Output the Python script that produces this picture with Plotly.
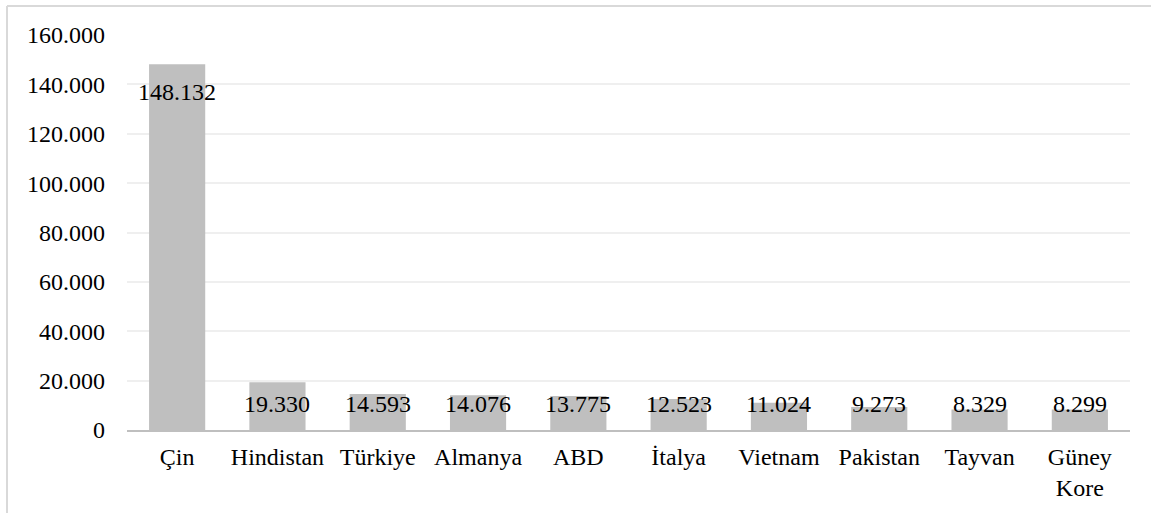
import plotly.graph_objects as go

# Country names and values (thousand separators drawn with ".")
countries = ["Çin", "Hindistan", "Türkiye", "Almanya", "ABD",
             "İtalya", "Vietnam", "Pakistan", "Tayvan", "Güney<br>Kore"]
values = [148132, 19330, 14593, 14076, 13775, 12523, 11024, 9273, 8329, 8299]

y_ticks = [0, 20000, 40000, 60000, 80000, 100000, 120000, 140000, 160000]

FONT = "Times New Roman"
FONT_SIZE = 24
BAR_COLOR = "#bfbfbf"


def fmt(v):
    return f"{v:,}".replace(",", ".")


fig = go.Figure()
fig.add_trace(go.Bar(
    x=countries,
    y=values,
    marker=dict(color=BAR_COLOR, line=dict(width=0)),
    hoverinfo="skip",
))

# Value labels near the top of each bar
annotations = []
for c, v in zip(countries, values):
    annotations.append(dict(
        x=c, y=max(v - 11400, 10600), xref="x", yref="y",
        text=fmt(v), showarrow=False,
        font=dict(family=FONT, size=FONT_SIZE, color="#000000"),
    ))

# Outer chart frame (left and top edges visible)
L, R, T, B = 127, 1130, 35, 430
W, H = R - L, B - T
px = lambda x: (x - L) / W
py = lambda y: (B - y) / H
shapes = [
    dict(type="line", xref="paper", yref="paper",
         x0=px(7), x1=px(7), y0=py(6), y1=py(520),
         line=dict(color="#d9d9d9", width=2)),
    dict(type="line", xref="paper", yref="paper",
         x0=px(7), x1=px(1165), y0=py(6), y1=py(6),
         line=dict(color="#d9d9d9", width=2)),
]

fig.update_layout(
    width=1151, height=513,
    margin=dict(l=L, r=1151 - R, t=T, b=513 - B),
    paper_bgcolor="white", plot_bgcolor="white",
    separators=",.",
    bargap=0.44,
    showlegend=False,
    annotations=annotations,
    shapes=shapes,
    font=dict(family=FONT, size=FONT_SIZE, color="#000000"),
    xaxis=dict(
        showline=True, linecolor=BAR_COLOR, linewidth=2,
        ticks="", showgrid=False,
        ticklabelstandoff=4,
        tickfont=dict(family=FONT, size=FONT_SIZE, color="#000000"),
    ),
    yaxis=dict(
        range=[0, 160000],
        tickvals=y_ticks,
        tickformat=",d",
        showgrid=True, gridcolor="#efefef", gridwidth=2,
        zeroline=False, showline=False, ticks="",
        ticklabelstandoff=21,
        tickfont=dict(family=FONT, size=FONT_SIZE, color="#000000"),
    ),
)

fig.write_html("out.html")
